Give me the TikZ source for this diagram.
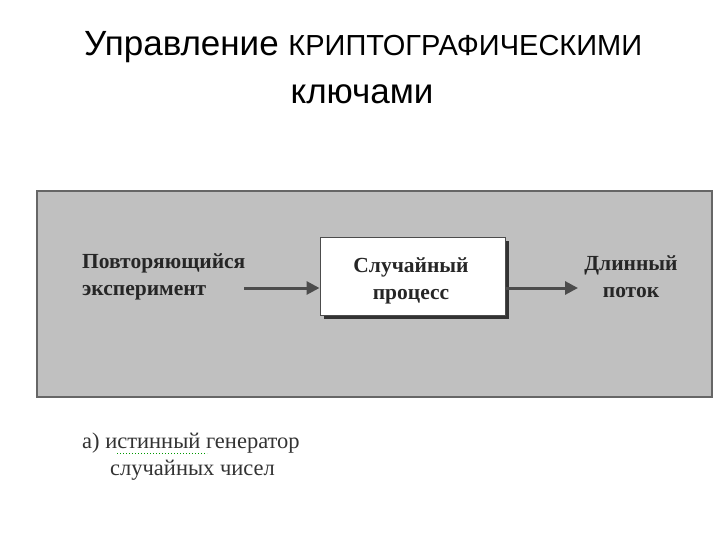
\documentclass[tikz,border=0pt]{standalone}
\usepackage{fontspec}
\setmainfont{Liberation Serif}
\newfontfamily\titlefont{Liberation Sans}
\usetikzlibrary{arrows.meta}
\definecolor{panel}{RGB}{192,192,192}
\tikzset{lbl/.style={font=\fontsize{21.5}{27}\selectfont\bfseries, text=black!85, inner sep=0pt, align=center},
 conn/.style={draw=black!70, line width=3pt, -{Triangle[length=13pt,width=13pt]}}}
\begin{document}
\begin{tikzpicture}[x=1pt,y=-1pt]
\useasboundingbox (0,0) rectangle (720,540);
\node[font=\titlefont\fontsize{35}{40}\selectfont, anchor=base west, inner sep=0pt] (t1) at (84,56) {Управление {\fontsize{29}{32}\selectfont КРИПТОГРАФИЧЕСКИМИ}};
\node[font=\titlefont\fontsize{35}{40}\selectfont, anchor=base, inner sep=0pt] (t2) at (362,104) {ключами};
\draw[fill=panel, draw=black!60, line width=1.2pt] (37,191) rectangle (712,397);
\fill[black!80] (324,241) rectangle (509,319);
\node[draw=black!70, fill=white, line width=1pt, minimum width=185pt, minimum height=78pt, inner sep=0pt] (box) at (412.5,276) {};
\node[lbl, anchor=center] (bt) at (411,281) {Случайный\\процесс};
\node[lbl, anchor=west, align=left] (in) at (82,277) {Повторяющийся\\эксперимент};
\node[lbl, align=center] (out) at (631,277) {Длинный\\поток};
\coordinate (a1) at (244,288);
\coordinate (a2) at (578,288);
\draw[conn] (a1) -- (box.west |- a1);
\draw[conn] (box.east |- a2) -- (a2);
\node[font=\fontsize{22.5}{26}\selectfont, text=black!80, anchor=base west, inner sep=0pt] (c1) at (82,448) {а) истинный генератор};
\node[font=\fontsize{22.5}{26}\selectfont, text=black!80, anchor=base west, inner sep=0pt] (c2) at (110,475) {случайных чисел};
\draw[green!60!black, dotted, line width=1pt] (117,453) -- (207,453);
\end{tikzpicture}
\end{document}
